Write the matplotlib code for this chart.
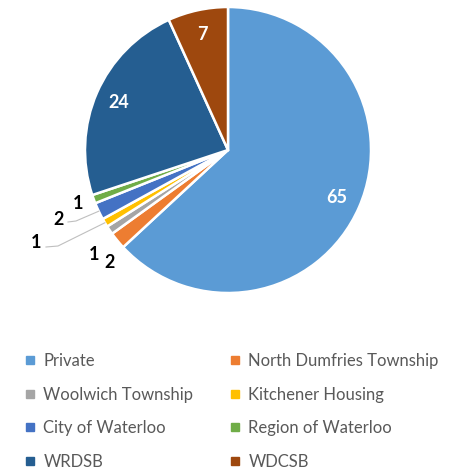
import numpy as np
import matplotlib.pyplot as plt
from matplotlib.lines import Line2D

# Chart data
categories = ['Private', 'North Dumfries Township', 'Woolwich Township', 'Kitchener Housing',
              'City of Waterloo', 'Region of Waterloo', 'WRDSB', 'WDCSB']
values = [65, 2, 1, 1, 2, 1, 24, 7]
colors = ['#5B9BD5', '#ED7D31', '#A5A5A5', '#FFC000', '#4472C4', '#70AD47', '#255E91', '#9E480E']

plt.rcParams['font.family'] = ['Lato', 'DejaVu Sans']

W, H = 454, 469
fig = plt.figure(figsize=(W / 100, H / 100), dpi=100)
ax = fig.add_axes([0, 0, 1, 1])

cx, cy, R = 228, H - 150, 143
wedges, _ = ax.pie(values, colors=colors, startangle=90, counterclock=False,
                   center=(cx, cy), radius=R, frame=True,
                   wedgeprops=dict(edgecolor='white', linewidth=1.8))
ax.set_xlim(0, W)
ax.set_ylim(0, H)
ax.set_aspect('equal')
ax.axis('off')

# mid-angles of wedges
total = sum(values)
cum = np.cumsum([0] + values)
mids = 90 - (cum[:-1] + np.array(values) / 2) / total * 360

# labels inside big wedges
for i in [0, 6, 7]:
    a = np.deg2rad(mids[i])
    r = 0.83 * R
    ax.text(cx + r * np.cos(a), cy + r * np.sin(a), str(values[i]), color='white',
            fontsize=13, fontweight='bold', ha='center', va='center')

# small outside labels (pixel layout, from top-left)
outside = {1: (110, 262), 2: (94, 255), 3: (36, 242), 4: (59, 219), 5: (78, 203)}
for i, (px, py) in outside.items():
    ax.text(px, H - py, str(values[i]), color='black', fontsize=13, fontweight='bold',
            ha='center', va='center')

# leader lines for Kitchener Housing and City of Waterloo
for i, (sx, sy), (kx, ky) in [(3, (46, 247), (58, 246)), (4, (68, 222), (76, 221))]:
    a = np.deg2rad(mids[i])
    ex, ey = cx + R * np.cos(a), cy + R * np.sin(a)
    ax.plot([sx, kx, ex], [H - sy, H - ky, ey], color='#BFBFBF', lw=0.8)

# legend, row-major order
order = [0, 2, 4, 6, 1, 3, 5, 7]
handles = [Line2D([], [], marker='s', linestyle='none', markersize=6,
                  markerfacecolor=colors[i], markeredgecolor=colors[i]) for i in order]
leg = fig.legend(handles, [categories[i] for i in order], ncol=2, loc='upper left',
                 bbox_to_anchor=(0.022, 0.279), frameon=False, fontsize=12,
                 handlelength=0.6, handletextpad=0.5, columnspacing=2.2,
                 labelspacing=1.05, labelcolor='#595959')

fig.savefig('out.png', dpi=100)
